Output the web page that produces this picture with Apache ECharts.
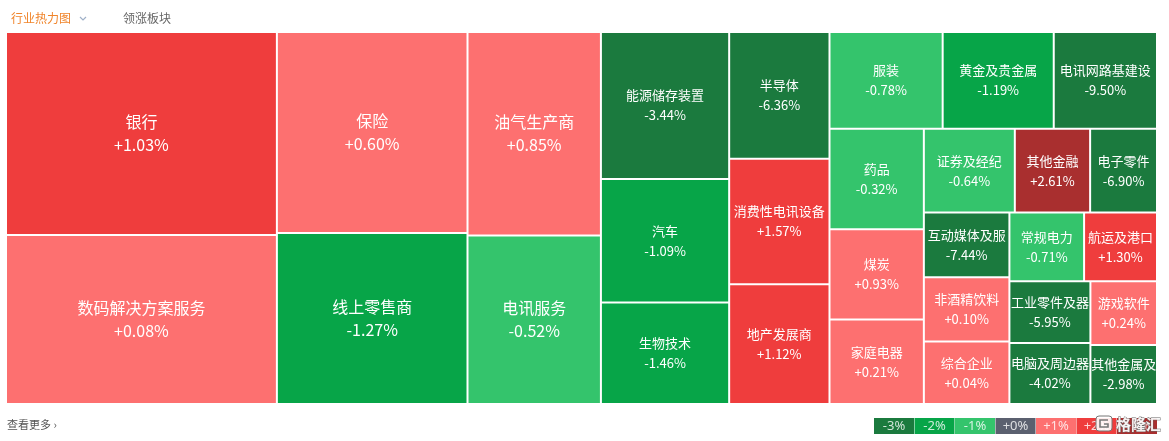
<!DOCTYPE html>
<html>
<head>
<meta charset="utf-8">
<script src="https://cdn.jsdelivr.net/npm/echarts@6/dist/echarts.min.js"></script>
<style>
html,body{margin:0;padding:0;background:#fff;}
#main{width:1169px;height:441px;}
</style>
</head>
<body>
<div id="main"></div>
<script>
// 行业名称
var names = ['银行', '数码解决方案服务', '保险', '线上零售商', '油气生产商', '电讯服务',
  '能源储存装置', '汽车', '生物技术', '半导体', '消费性电讯设备', '地产发展商',
  '服装', '黄金及贵金属', '电讯网路基建设', '药品', '煤炭', '家庭电器',
  '证券及经纪', '其他金融', '电子零件', '互动媒体及服', '非酒精饮料', '综合企业',
  '常规电力', '航运及港口', '工业零件及器', '电脑及周边器', '游戏软件', '其他金属及'];
// 板块权重(按面积估算)
var sizes = [54500, 45400, 38000, 32300, 26900, 22300,
  18700, 15700, 12900, 12600, 12500, 11900,
  10850, 10650, 9900, 9400, 8450, 7900,
  7550, 6250, 5550, 5500, 5450, 5300,
  5100, 4980, 4950, 4900, 4200, 3900];
// 涨跌幅 %
var changes = [1.03, 0.08, 0.60, -1.27, 0.85, -0.52,
  -3.44, -1.09, -1.46, -6.36, 1.57, 1.12,
  -0.78, -1.19, -9.50, -0.32, 0.93, 0.21,
  -0.64, 2.61, -6.90, -7.44, 0.10, 0.04,
  -0.71, 1.30, -5.95, -4.02, 0.24, -2.98];
// 图例
var legendLabels = ['-3%', '-2%', '-1%', '+0%', '+1%', '+2%', '+3%'];
var legendColors = ['#1b7a3e', '#07a548', '#34c46c', '#5b606f', '#fd7070', '#ef3d3d', '#a92f2f'];

function colorOf(v) {
  if (v === 0) return legendColors[3];
  if (v > 0) {
    if (v < 1) return legendColors[4];
    if (v < 2) return legendColors[5];
    return legendColors[6];
  }
  if (v > -1) return legendColors[2];
  if (v > -2) return legendColors[1];
  return legendColors[0];
}

function fmt(v) {
  return (v >= 0 ? '+' : '') + v.toFixed(2) + '%';
}

var treeData = [];
for (var i = 0; i < names.length; i++) {
  var big = sizes[i] > 20000;
  treeData.push({
    name: names[i],
    value: sizes[i],
    change: changes[i],
    itemStyle: { color: colorOf(changes[i]) },
    label: { fontSize: big ? 16 : 13, lineHeight: big ? 23 : 20 }
  });
}

var chart = echarts.init(document.getElementById('main'));

var graphics = [
  { type: 'text', left: 11, top: 12, style: { text: '行业热力图', fill: '#f0842a', font: '12px "Noto Sans CJK SC"' } },
  { type: 'polyline', shape: { points: [[80, 17], [83, 20], [86, 17]] }, style: { stroke: '#9fb0c8', lineWidth: 1.2, fill: null } },
  { type: 'text', left: 123, top: 12, style: { text: '领涨板块', fill: '#666', font: '12px "Noto Sans CJK SC"' } },
  { type: 'text', left: 7, top: 419, style: { text: '查看更多 ›', fill: '#555', font: '11px "Noto Sans CJK SC"' } }
];
for (var k = 0; k < legendLabels.length; k++) {
  graphics.push({
    type: 'rect',
    shape: { x: 874 + k * 40.5, y: 418, width: 40, height: 16 },
    style: { fill: legendColors[k] }
  });
  graphics.push({
    type: 'text',
    x: 874 + k * 40.5 + 20, y: 426,
    style: { text: legendLabels[k], fill: 'rgba(255,255,255,0.8)', font: '13px "Noto Sans"', align: 'center', verticalAlign: 'middle' }
  });
}
// 水印
graphics.push({ type: 'rect', shape: { x: 1096, y: 416, width: 16, height: 15, r: 3 }, style: { fill: 'rgba(255,255,255,0.9)', stroke: '#777', lineWidth: 1 } });
graphics.push({ type: 'polyline', shape: { points: [[1108, 420], [1100, 420], [1100, 427], [1108, 427], [1108, 424], [1104, 424]] }, style: { stroke: '#777', lineWidth: 1.6, fill: null } });
graphics.push({ type: 'text', x: 1116, y: 424, style: { text: '格隆汇', fill: 'rgba(255,255,255,0.92)', stroke: '#666', lineWidth: 0.8, font: 'bold 15px "Noto Sans CJK SC"', verticalAlign: 'middle' } });

var option = {
  animation: false,
  graphic: graphics,
  series: [{
    type: 'treemap',
    left: 7,
    top: 33,
    width: 1149,
    height: 370,
    roam: false,
    nodeClick: false,
    breadcrumb: { show: false },
    sort: 'desc',
    squareRatio: 1,
    label: {
      show: true,
      position: 'inside',
      color: '#fff',
      fontFamily: '"Noto Sans CJK SC"',
      align: 'center',
      verticalAlign: 'middle',
      overflow: 'none',
      formatter: function (p) {
        return p.name + '\n' + fmt(p.data.change);
      }
    },
    itemStyle: { borderColor: '#fff', borderWidth: 0, gapWidth: 2 },
    levels: [
      { itemStyle: { borderWidth: 0, gapWidth: 2, borderColor: '#fff' } },
      { itemStyle: { borderWidth: 0 } }
    ],
    data: treeData
  }]
};
chart.setOption(option);
</script>
</body>
</html>
